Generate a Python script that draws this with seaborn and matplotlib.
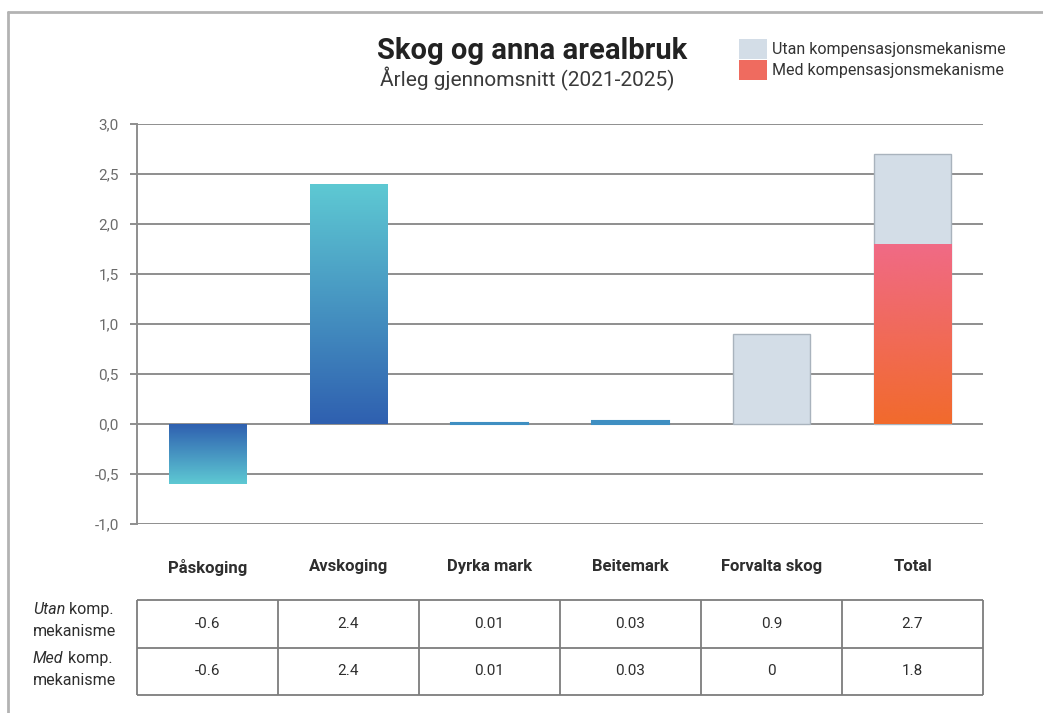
import numpy as np
import pandas as pd
import matplotlib
matplotlib.use("Agg")
import matplotlib.pyplot as plt
import seaborn as sns
from matplotlib.colors import LinearSegmentedColormap
from matplotlib.lines import Line2D
from matplotlib.patches import Patch
from matplotlib.ticker import FuncFormatter, MultipleLocator

# ---------------- data ----------------
categories = ["Påskoging", "Avskoging", "Dyrka mark", "Beitemark", "Forvalta skog", "Total"]
utan_values = [-0.6, 2.4, 0.01, 0.03, 0.9, 2.7]   # Utan kompensasjonsmekanisme
med_values = [-0.6, 2.4, 0.01, 0.03, 0.0, 1.8]    # Med kompensasjonsmekanisme
row_labels = [("Utan", " komp.", "mekanisme"), ("Med", " komp.", "mekanisme")]
title = "Skog og anna arealbruk"
subtitle = "Årleg gjennomsnitt (2021-2025)"
legend_labels = ["Utan kompensasjonsmekanisme", "Med kompensasjonsmekanisme"]

# ---------------- style ----------------
W, H = 1043, 713
sns.set_theme(style="white")
plt.rcParams["font.family"] = ["Roboto", "DejaVu Sans"]

DARK = "#2e2e2e"
GREY_TXT = "#6b6b6b"
GRID = "#8e8e8e"
LIGHT = "#d3dde7"
LIGHT_EDGE = "#a9b3bd"
BLUE_BASE, BLUE_TIP = "#2f60b0", "#5ec9d3"
BLUE_MID = "#3f8fc2"
RED_BASE, RED_TIP = "#f26a2c", "#f06a86"

df = pd.DataFrame({"category": categories, "utan": utan_values, "med": med_values})

fig = plt.figure(figsize=(W / 100, H / 100), dpi=100)
fig.patch.set_facecolor("white")

ax_l, ax_r = 137 / W, 983 / W
ax_b, ax_t = 1 - 524 / H, 1 - 124 / H
ax = fig.add_axes([ax_l, ax_b, ax_r - ax_l, ax_t - ax_b])

sns.barplot(data=df, x="category", y="utan", color=LIGHT, width=0.55,
            saturation=1, errorbar=None, ax=ax, zorder=1)
sns.barplot(data=df, x="category", y="med", color=BLUE_BASE, width=0.55,
            saturation=1, errorbar=None, ax=ax, zorder=2)

utan_bars = ax.containers[0]
med_bars = ax.containers[1]

for p, u, m in zip(utan_bars.patches, utan_values, med_values):
    if u != m:
        p.set_edgecolor(LIGHT_EDGE)
        p.set_linewidth(1.0)
    else:
        p.set_linewidth(0)

grad = np.linspace(0, 1, 256).reshape(-1, 1)
for p, cat in zip(med_bars.patches, categories):
    base, tip = (RED_BASE, RED_TIP) if cat == "Total" else (BLUE_BASE, BLUE_TIP)
    cmap = LinearSegmentedColormap.from_list("g", [base, tip])
    x0, y0, w, h = p.get_x(), p.get_y(), p.get_width(), p.get_height()
    p.set_facecolor("none")
    p.set_linewidth(0)
    if h == 0:
        continue
    if abs(h) < 0.05:
        # very thin bars: draw as a solid sliver so they stay visible
        p.set_facecolor(BLUE_MID)
        p.set_edgecolor(BLUE_MID)
        p.set_linewidth(1.5)
        p.set_zorder(3)
        continue
    im = ax.imshow(grad, cmap=cmap, origin="lower", aspect="auto",
                   extent=(x0, x0 + w, y0, y0 + h), zorder=2, interpolation="bilinear")
    im.set_clip_path(p)

ax.set_xlim(-0.5, len(categories) - 0.5)
ax.set_ylim(-1.0, 3.0)
ax.yaxis.set_major_locator(MultipleLocator(0.5))
ax.yaxis.set_major_formatter(FuncFormatter(lambda v, _: f"{v:.1f}".replace(".", ",")))
ax.set_axisbelow(True)
ax.yaxis.grid(True, color=GRID, linewidth=1.4)
ax.xaxis.grid(False)
for s in ["top", "right", "bottom"]:
    ax.spines[s].set_visible(False)
ax.spines["left"].set_color(GRID)
ax.spines["left"].set_linewidth(1.4)
ax.tick_params(axis="y", direction="out", length=5, width=1.4, color=GRID,
               labelsize=11, labelcolor=GREY_TXT, pad=8, left=True)
ax.tick_params(axis="x", length=0, pad=25, labelsize=12, labelcolor=DARK)
for t in ax.get_xticklabels():
    t.set_fontweight("bold")
ax.set_xlabel("")
ax.set_ylabel("")
ax.set_facecolor("white")

# ---------------- table ----------------
tb, tt = 1 - 695 / H, 1 - 600 / H
tax = fig.add_axes([ax_l, tb, ax_r - ax_l, tt - tb])
n = len(categories)
tax.set_xlim(-0.5, n - 0.5)
tax.set_ylim(0, 2)
tax.axis("off")
tax.hlines([0, 1, 2], -0.5, n - 0.5, color="#7d7d7d", linewidth=1.3, clip_on=False)
tax.vlines(np.arange(n + 1) - 0.5, 0, 2, color="#7d7d7d", linewidth=1.3, clip_on=False)
for i, (u, m) in enumerate(zip(utan_values, med_values)):
    tax.text(i, 1.5, f"{u:g}", ha="center", va="center", fontsize=11, color=DARK)
    tax.text(i, 0.5, f"{m:g}", ha="center", va="center", fontsize=11, color=DARK)

row_y = [1 - 614 / H, 1 - 663 / H]
for (it, rest, line2), y in zip(row_labels, row_y):
    t1 = fig.text(33 / W, y, it, fontsize=11.5, style="italic", color=DARK, va="baseline")
    tax.annotate(rest, xy=(1, 0), xycoords=t1, fontsize=11.5, color=DARK,
                 va="bottom", ha="left", annotation_clip=False)
    fig.text(33 / W, y - 22 / H, line2, fontsize=11.5, color=DARK, va="baseline")

# ---------------- titles ----------------
fig.text(532 / W, 1 - 51 / H, title, ha="center", va="center", fontsize=21,
         fontweight="bold", color="#222222")
fig.text(527 / W, 1 - 79 / H, subtitle, ha="center", va="center", fontsize=15,
         color="#3a3a3a")

# ---------------- legend ----------------
handles = [Patch(facecolor=LIGHT, edgecolor="none"),
           Patch(facecolor="#ef6b5f", edgecolor="none")]
fig.legend(handles, legend_labels, loc="upper left",
           bbox_to_anchor=(739 / W, 1 - 39 / H), frameon=False, fontsize=11.5,
           handlelength=1.75, handleheight=1.55, handletextpad=0.3,
           labelspacing=0.05, borderpad=0, borderaxespad=0, labelcolor="#333333")

# ---------------- outer frame ----------------
fx, fy = 8 / W, 1 - 12 / H
fig.add_artist(Line2D([fx, fx], [0, fy], transform=fig.transFigure, color="#b3b3b3", lw=2))
fig.add_artist(Line2D([fx, 1], [fy, fy], transform=fig.transFigure, color="#b3b3b3", lw=2))

fig.savefig("out.png", dpi=100, facecolor="white")
